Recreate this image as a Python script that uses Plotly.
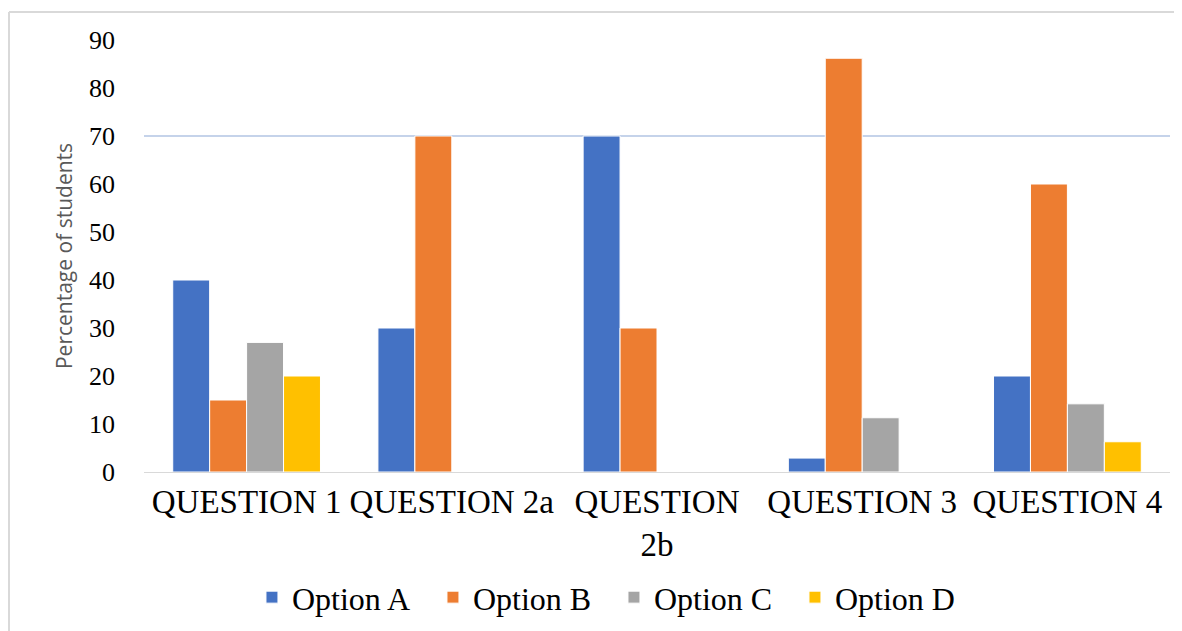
import plotly.graph_objects as go

categories = ["QUESTION 1", "QUESTION 2a", "QUESTION<br>2b", "QUESTION 3", "QUESTION 4"]
option_a = [40, 30, 70, 2.9, 20]
option_b = [15, 70, 30, 86.2, 60]
option_c = [27, None, None, 11.3, 14.2]
option_d = [20, None, None, None, 6.3]
series_names = ["Option A", "Option B", "Option C", "Option D"]
series_colors = ["#4472C4", "#ED7D31", "#A5A5A5", "#FFC000"]
y_ticks = [0, 10, 20, 30, 40, 50, 60, 70, 80, 90]

W, H = 1182, 631
L, R, T, B = 136, 20, 32, 167
pw, ph = W - L - R, H - T - B

def px_x(x):
    return (x - L) / pw

def px_y(y):
    return (H - B - y) / ph

fig = go.Figure()
for name, vals, col in zip(series_names, [option_a, option_b, option_c, option_d], series_colors):
    fig.add_trace(go.Bar(x=categories, y=vals, name=name, marker_color=col,
                         marker_line_color="white", marker_line_width=1))

fig.update_layout(
    width=W, height=H,
    margin=dict(l=L, r=R, t=T, b=B, autoexpand=False),
    paper_bgcolor="white", plot_bgcolor="white",
    barmode="group", bargap=0.28, bargroupgap=0,
    font=dict(family="Liberation Serif", color="black"),
    legend=dict(orientation="h", xref="container", yref="container",
                x=0.2064, y=0.066, xanchor="left", yanchor="middle",
                font=dict(family="Liberation Serif", size=32, color="black"),
                entrywidth=136, entrywidthmode="pixels", itemwidth=30),
    showlegend=True,
)
fig.update_xaxes(showgrid=False, showline=True, linecolor="#D9D9D9", linewidth=1,
                 tickfont=dict(family="Liberation Serif", size=33, color="black"),
                 ticks="", tickangle=0, automargin=False)
fig.update_yaxes(range=[0, 90], tickvals=y_ticks, showgrid=False, zeroline=False,
                 showline=False, automargin=False,
                 tickfont=dict(family="Liberation Serif", size=26, color="black"),
                 ticklabelstandoff=28,
                 title=dict(text="Percentage of students",
                            font=dict(family="Open Sans", size=21, color="#595959"),
                            standoff=10))
fig.add_hline(y=70, line_color="#C5D3EA", line_width=2, layer="below")

# outer frame (top and left edges)
fig.add_shape(type="line", xref="paper", yref="paper",
              x0=px_x(1), x1=px_x(1182), y0=px_y(4), y1=px_y(4),
              line=dict(color="#D9D9D9", width=2))
fig.add_shape(type="line", xref="paper", yref="paper",
              x0=px_x(1), x1=px_x(1), y0=px_y(4), y1=px_y(631),
              line=dict(color="#D9D9D9", width=2))

fig.write_html("out.html")
